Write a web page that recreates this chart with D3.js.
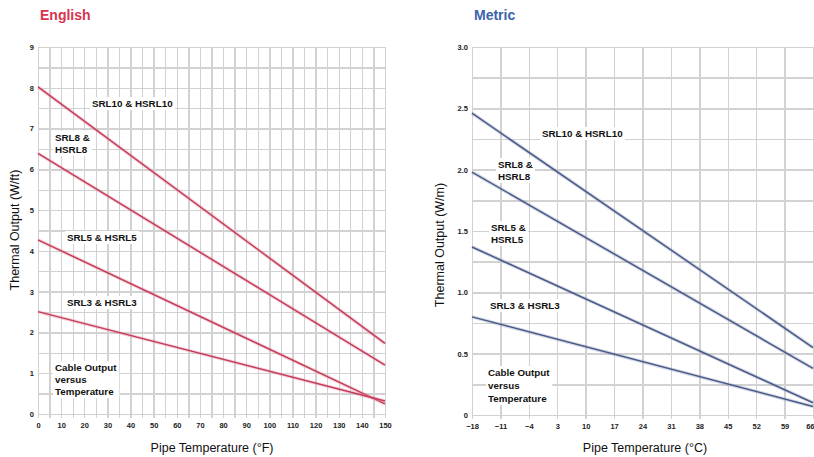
<!DOCTYPE html>
<html>
<head>
<meta charset="utf-8">
<script src="https://cdn.jsdelivr.net/npm/d3@7"></script>
<style>
    body { margin: 0; background: #fff; }
    svg { display: block; font-family: "Liberation Sans Narrow", "Arial Narrow", "Liberation Sans", Arial, sans-serif; }
    .grid line { stroke: #d2d2d2; stroke-width: 1.4px; shape-rendering: crispEdges; }
    .grid path { display: none; }
    .tick-lbl path, .tick-lbl line { display: none; }
    .tick-lbl text { font-size: 7.5px; font-weight: bold; fill: #222; }
    .note { font-size: 9.8px; font-weight: bold; fill: #111; }
    .axis-title { font-size: 12.5px; fill: #111; }
</style>
</head>
<body>
<div id="chart"></div>
<script>
// English chart data (Pipe temperature in F, thermal output W/ft)
var englishTemps = [0, 150];
var englishSRL10 = [8.02, 1.73];
var englishSRL8 = [6.39, 1.20];
var englishSRL5 = [4.27, 0.25];
var englishSRL3 = [2.51, 0.32];
var englishXTicks = d3.range(0, 151, 10);
var englishYTicks = d3.range(0, 10, 1);

// Metric chart data (Pipe temperature in C, thermal output W/m)
var metricTemps = [-18, 66];
var metricSRL10 = [2.46, 0.55];
var metricSRL8 = [1.98, 0.38];
var metricSRL5 = [1.37, 0.10];
var metricSRL3 = [0.80, 0.07];
var metricXTicks = d3.range(-18, 67, 7);
var metricYTicks = d3.range(0, 3.01, 0.5);

var svg = d3.select('#chart')
    .append('svg')
    .attr('width', 814)
    .attr('height', 457);

function drawPanel(cfg) {
    var xScale = d3.scaleLinear().domain(cfg.xDomain).range([cfg.left, cfg.right]);
    var yScale = d3.scaleLinear().domain(cfg.yDomain).range([cfg.bottom, cfg.top]);
    var g = svg.append('g');

    //grid
    g.append('g')
        .attr('class', 'grid')
        .attr('transform', 'translate(0,' + (cfg.bottom + 4) + ')')
        .call(d3.axisBottom(xScale)
            .tickValues(cfg.xGrid)
            .tickSizeInner(-(cfg.bottom + 4 - cfg.top))
            .tickSizeOuter(0)
            .tickFormat(''));
    g.append('g')
        .attr('class', 'grid')
        .attr('transform', 'translate(' + cfg.left + ',0)')
        .call(d3.axisLeft(yScale)
            .tickValues(cfg.yGrid)
            .tickSizeInner(-(cfg.right - cfg.left))
            .tickSizeOuter(0)
            .tickFormat(''));

    //tick labels
    var xAxis = g.append('g')
        .attr('class', 'tick-lbl')
        .attr('transform', 'translate(0,' + cfg.bottom + ')')
        .call(d3.axisBottom(xScale).tickValues(cfg.xTicks).tickSize(0).tickPadding(9)
            .tickFormat(d3.format('d')));
    //last label sits at the window edge, keep it inside
    xAxis.selectAll('.tick text')
        .filter(function (d) { return xScale(d) > 805; })
        .attr('text-anchor', 'end').attr('dx', 1);
    g.append('g')
        .attr('class', 'tick-lbl')
        .attr('transform', 'translate(' + cfg.left + ',0)')
        .call(d3.axisLeft(yScale).tickValues(cfg.yTicks).tickSize(0).tickPadding(4)
            .tickFormat(cfg.yFormat));

    //lines
    var line = d3.line()
        .x(function (d) { return xScale(d[0]); })
        .y(function (d) { return yScale(d[1]); });
    cfg.series.forEach(function (s) {
        var pts = cfg.xs.map(function (x, i) { return [x, s[i]]; });
        g.append('path').attr('d', line(pts))
            .attr('fill', 'none').attr('stroke', cfg.halo).attr('stroke-width', 3.6);
        g.append('path').attr('d', line(pts))
            .attr('fill', 'none').attr('stroke', cfg.color).attr('stroke-width', 1.5);
    });

    //notes on white boxes
    cfg.notes.forEach(function (n) {
        var t = g.append('text').attr('class', 'note').attr('x', n.x).attr('y', n.y);
        n.lines.forEach(function (l, i) {
            t.append('tspan').attr('x', n.x).attr('dy', i === 0 ? 0 : n.lh).text(l);
        });
        var bb = t.node().getBBox();
        g.insert('rect', function () { return t.node(); })
            .attr('x', bb.x - 2).attr('y', bb.y - 1)
            .attr('width', bb.width + 4).attr('height', bb.height + 2)
            .attr('fill', '#fff');
    });

    //titles
    svg.append('text')
        .attr('x', cfg.left + 2).attr('y', 20)
        .style('font-family', 'Liberation Sans, Arial, sans-serif')
        .style('font-size', '14px').style('font-weight', 'bold')
        .attr('fill', cfg.titleColor)
        .text(cfg.title);
    svg.append('text')
        .attr('class', 'axis-title')
        .attr('text-anchor', 'middle')
        .attr('x', cfg.xTitleX).attr('y', 452)
        .text(cfg.xTitle);
    svg.append('text')
        .attr('class', 'axis-title')
        .attr('text-anchor', 'middle')
        .attr('transform', 'translate(' + cfg.yTitleX + ',' + cfg.yTitleY + ') rotate(-90)')
        .text(cfg.yTitle);
}

drawPanel({
    title: 'English', titleColor: '#d8334f',
    left: 38, right: 385, top: 47, bottom: 414,
    xDomain: [0, 150], yDomain: [0, 9],
    xGrid: d3.range(0, 151, 5), yGrid: d3.range(0, 9.01, 0.5),
    xTicks: englishXTicks, yTicks: englishYTicks,
    yFormat: d3.format('d'),
    xs: englishTemps,
    series: [englishSRL10, englishSRL8, englishSRL5, englishSRL3],
    color: '#c43c5a', halo: 'rgba(230,140,160,0.35)',
    notes: [
        { x: 92, y: 107, lh: 12, lines: ['SRL10 & HSRL10'] },
        { x: 55, y: 141, lh: 12, lines: ['SRL8 &', 'HSRL8'] },
        { x: 67, y: 241, lh: 12, lines: ['SRL5 & HSRL5'] },
        { x: 67, y: 306, lh: 12, lines: ['SRL3 & HSRL3'] },
        { x: 55, y: 371, lh: 12, lines: ['Cable Output', 'versus', 'Temperature'] }
    ],
    xTitle: 'Pipe Temperature (°F)', xTitleX: 212,
    yTitle: 'Thermal Output (W/ft)', yTitleX: 19, yTitleY: 230
});

drawPanel({
    title: 'Metric', titleColor: '#3a62ad',
    left: 472, right: 813, top: 47, bottom: 415,
    xDomain: [-18, 66], yDomain: [0, 3],
    xGrid: metricXTicks, yGrid: d3.range(0, 3.01, 0.25),
    xTicks: metricXTicks, yTicks: metricYTicks,
    yFormat: function (d) { return d === 0 ? '0' : d3.format('.1f')(d); },
    xs: metricTemps,
    series: [metricSRL10, metricSRL8, metricSRL5, metricSRL3],
    color: '#4b5a86', halo: 'rgba(120,135,180,0.3)',
    notes: [
        { x: 542, y: 137, lh: 12, lines: ['SRL10 & HSRL10'] },
        { x: 498, y: 168, lh: 12, lines: ['SRL8 &', 'HSRL8'] },
        { x: 491, y: 231, lh: 12, lines: ['SRL5 &', 'HSRL5'] },
        { x: 490, y: 309, lh: 12, lines: ['SRL3 & HSRL3'] },
        { x: 488, y: 376, lh: 13, lines: ['Cable Output', 'versus', 'Temperature'] }
    ],
    xTitle: 'Pipe Temperature (°C)', xTitleX: 645,
    yTitle: 'Thermal Output (W/m)', yTitleX: 444, yTitleY: 245
});
</script>
</body>
</html>
